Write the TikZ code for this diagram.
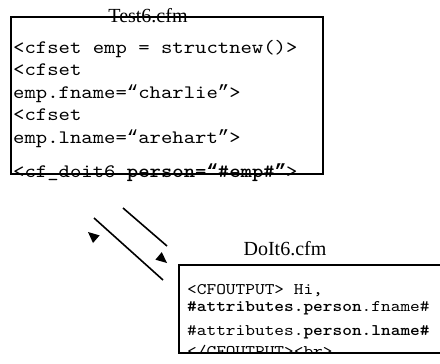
\documentclass[tikz,border=0pt]{standalone}
\usepackage{fontspec}
\setmainfont{Liberation Serif}
% typewriter face for the code listings, widened to a Courier-like pitch
\newfontfamily\codefont{lmmono10-regular}[Extension=.otf,BoldFont=lmmonolt10-bold,FakeStretch=1.14]
% curly quotation marks taken from a face that draws them slanted
\newfontfamily\quotefont{Liberation Mono}
\newcommand\codeoq{{\quotefont “}}
\newcommand\codecq{{\quotefont ”}}
\begin{document}
\begin{tikzpicture}[x=1pt,y=-1pt,
  filebox/.style={draw=black,line width=1.6pt,inner sep=0pt,anchor=north west},
  codeA/.style={anchor=base west,inner sep=0pt,font=\fontsize{19}{22}\codefont},
  codeB/.style={anchor=base west,inner sep=0pt,font=\fontsize{16.2}{19}\codefont},
  filename/.style={anchor=base,inner sep=0pt,font=\fontsize{20}{24}\selectfont},
  link/.style={line width=1.6pt,line cap=butt},
  tip/.style={fill=black}]
\clip (0,0) rectangle (440,364);

% calling template
\node[codeA] (a1) at (13,53) {<cfset emp = structnew()>};
\node[codeA] (a2) at (13,75.5) {<cfset};
\node[codeA] (a3) at (13,98) {emp.fname=\codeoq charlie\codecq>};
\node[codeA] (a4) at (13,120.5) {<cfset};
\node[codeA] (a5) at (13,143) {emp.lname=\codeoq arehart\codecq>};
\node[codeA] (a6) at (13,177) {<cf\_doit6 \textbf{person=\codeoq\#emp\#\codecq}>};
\node[filebox,minimum width=312pt,minimum height=157pt] (test) at (10,16) {};
\node[filename] (testname) at (148,22) {Test6.cfm};

% custom tag
\node[filename] (doitname) at (285,255) {DoIt6.cfm};
\begin{scope}
  \clip (178,264) rectangle (445,352);
  \node[codeB] (b1) at (187,294) {<CFOUTPUT> Hi,};
  \node[codeB] (b2) at (187,311) {\textbf{\#attributes.person}.fname\#};
  \node[codeB] (b3) at (187,335) {\#attributes.\textbf{person.lname\#}};
  \node[codeB] (b4) at (187,356) {</CFOUTPUT><br>};
\end{scope}
\node[filebox,minimum width=280pt,minimum height=88pt] (doit) at (178,264) {};

% call and return
\coordinate (r1) at (94,218);
\coordinate (r2) at (163,280);
\coordinate (c1) at (123,208);
\coordinate (c2) at (167,246);
\draw[link] (r1) -- (r2);
\draw[link] (c1) -- (c2);
\fill[tip] (88,232) -- (99.6,235.4) -- (93.0,243.0) -- cycle;
\fill[tip] (167,263) -- (161.8,252.1) -- (155.4,259.7) -- cycle;
\end{tikzpicture}
\end{document}
